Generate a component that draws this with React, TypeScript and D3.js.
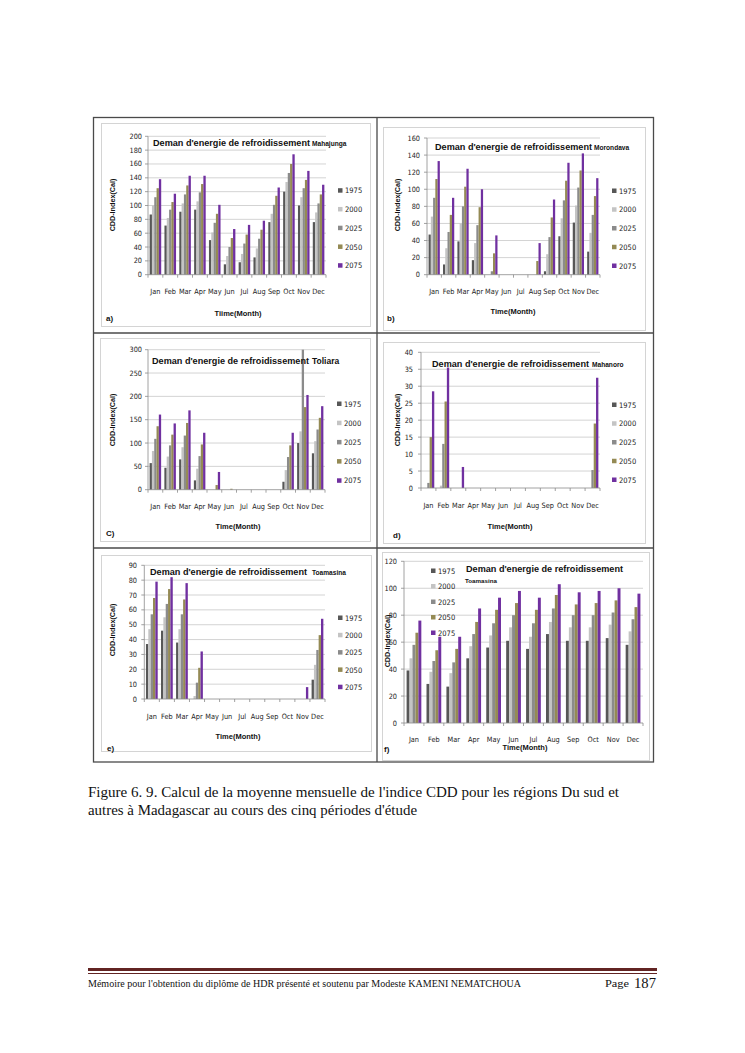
import React from 'react';
import * as d3 from 'd3';

const months = ['Jan', 'Feb', 'Mar', 'Apr', 'May', 'Jun', 'Jul', 'Aug', 'Sep', 'Oct', 'Nov', 'Dec'];
const years = ['1975', '2000', '2025', '2050', '2075'];
const yearColors = ['#575757', '#c4c4c4', '#8b8b8b', '#948a54', '#7030a0'];

// rows = years 1975, 2000, 2025, 2050, 2075 ; columns = months
const mahajunga = [
  [87, 71, 91, 94, 50, 15, 18, 25, 76, 120, 100, 76],
  [100, 82, 103, 106, 61, 27, 30, 38, 88, 134, 112, 90],
  [112, 94, 116, 119, 75, 40, 45, 52, 101, 147, 125, 103],
  [125, 105, 129, 131, 88, 53, 58, 65, 114, 160, 137, 116],
  [138, 117, 143, 143, 101, 66, 72, 78, 126, 174, 150, 130],
];
const morondava = [
  [47, 12, 39, 17, 0, 0, 0, 0, 4, 45, 61, 27],
  [68, 31, 60, 37, 0, 0, 0, 0, 24, 66, 81, 49],
  [90, 50, 80, 58, 4, 0, 0, 0, 44, 87, 102, 70],
  [112, 70, 103, 79, 25, 0, 0, 16, 67, 110, 122, 92],
  [133, 90, 124, 100, 46, 0, 0, 37, 88, 131, 142, 113],
];
const toliara = [
  [57, 47, 65, 20, 0, 0, 0, 0, 0, 17, 100, 78],
  [83, 71, 91, 45, 0, 0, 0, 0, 0, 42, 125, 104],
  [109, 95, 116, 72, 0, 0, 0, 0, 0, 70, 300, 129],
  [136, 118, 143, 97, 10, 2, 0, 0, 0, 95, 177, 154],
  [161, 142, 170, 122, 38, 0, 0, 0, 0, 122, 203, 179],
];
const mahanoro = [
  [0, 0, 0, 0, 0, 0, 0, 0, 0, 0, 0, 0],
  [0, 0.7, 0, 0, 0, 0, 0, 0, 0, 0, 0, 0],
  [1.5, 13, 0, 0, 0, 0, 0, 0, 0, 0, 0, 5.3],
  [15, 25.5, 0, 0, 0, 0, 0, 0, 0, 0, 0, 19],
  [28.5, 35.5, 6.2, 0, 0, 0, 0, 0, 0, 0, 0, 32.5],
];
const toamasinaE = [
  [37, 46, 38, 0, 0, 0, 0, 0, 0, 0, 0, 13],
  [47, 55, 47, 2, 0, 0, 0, 0, 0, 0, 0, 23],
  [57, 64, 57, 11, 0, 0, 0, 0, 0, 0, 0, 33],
  [68, 74, 67, 21, 0, 0, 0, 0, 0, 0, 0, 43],
  [79, 82, 78, 32, 0, 0, 0, 0, 0, 0, 8, 54],
];
const toamasinaF = [
  [39, 29, 27, 48, 56, 61, 55, 66, 61, 61, 63, 58],
  [48, 38, 37, 57, 65, 71, 64, 75, 71, 71, 73, 68],
  [58, 46, 45, 66, 74, 80, 74, 85, 80, 80, 82, 77],
  [67, 54, 55, 75, 84, 89, 84, 95, 88, 89, 91, 86],
  [76, 64, 64, 85, 93, 98, 93, 103, 97, 98, 100, 96],
];

const titleMain = "Deman d'energie de refroidissement";
const yTitle = 'CDD-Index(Cal)';

const FONT = "'Liberation Sans Narrow', 'DejaVu Sans Condensed', 'Liberation Sans', Arial, sans-serif";
const FONTB = "'Liberation Sans', Arial, sans-serif";

type P = {
  data: number[][];
  place: string; placeSize: number; placeDx: number; placeDy: number;
  border: [number, number, number, number];
  L: number; R: number; T: number; B: number; yMax: number; step: number;
  tickX: number; yTitleX: number; yTitleY: number;
  monthY: number; xTitle: string; xTitleX: number; xTitleY: number;
  label: string; labelX: number; labelY: number;
  legX: number; legY: number; legStep: number;
  titleX: number; titleY: number;
  pad: number; tickSize: number;
};

const panels: P[] = [
  { data: mahajunga, place: 'Mahajunga', placeSize: 6.6, placeDx: 159, placeDy: 0,
    border: [101, 123, 370, 326], L: 148, R: 326, T: 136.3, B: 274.7, yMax: 200, step: 20,
    tickX: 142, yTitleX: 112, yTitleY: 205, monthY: 294, xTitle: 'Tiime(Month)', xTitleX: 238, xTitleY: 316,
    label: 'a)', labelX: 106, labelY: 321, legX: 340, legY: 190.7, legStep: 18.75, titleX: 153, titleY: 146, pad: 0.22, tickSize: 7.3 },
  { data: morondava, place: 'Morondava', placeSize: 6.6, placeDx: 159, placeDy: 0,
    border: [383, 127, 645, 330], L: 427, R: 600, T: 138, B: 274.7, yMax: 160, step: 20,
    tickX: 420, yTitleX: 397, yTitleY: 205, monthY: 294, xTitle: 'Time(Month)', xTitleX: 513, xTitleY: 314,
    label: 'b)', labelX: 387, labelY: 321, legX: 614, legY: 191, legStep: 18.75, titleX: 435, titleY: 150, pad: 0.22, tickSize: 7.3 },
  { data: toliara, place: 'Toliara', placeSize: 8.5, placeDx: 160, placeDy: 0,
    border: [100, 338, 370, 541], L: 148, R: 325, T: 349.7, B: 489.7, yMax: 300, step: 50,
    tickX: 142, yTitleX: 112, yTitleY: 420, monthY: 509, xTitle: 'Time(Month)', xTitleX: 238, xTitleY: 529,
    label: 'C)', labelX: 106, labelY: 536, legX: 339, legY: 404, legStep: 19.2, titleX: 152, titleY: 364, pad: 0.22, tickSize: 7.3 },
  { data: mahanoro, place: 'Mahanoro', placeSize: 6.6, placeDx: 160, placeDy: 0,
    border: [383, 342, 645, 543], L: 421, R: 600, T: 352.3, B: 488, yMax: 40, step: 5,
    tickX: 413, yTitleX: 397, yTitleY: 420, monthY: 508, xTitle: 'Time(Month)', xTitleX: 510, xTitleY: 529,
    label: 'd)', labelX: 393, labelY: 538, legX: 614, legY: 405, legStep: 18.75, titleX: 432, titleY: 367, pad: 0.22, tickSize: 7.3 },
  { data: toamasinaE, place: 'Toamasina', placeSize: 6.6, placeDx: 162, placeDy: 0,
    border: [101, 555, 371, 751], L: 144.3, R: 325, T: 565.3, B: 699, yMax: 90, step: 10,
    tickX: 137, yTitleX: 112, yTitleY: 630, monthY: 719, xTitle: 'Time(Month)', xTitleX: 238, xTitleY: 739,
    label: 'e)', labelX: 107, labelY: 751, legX: 340, legY: 618, legStep: 17.3, titleX: 150, titleY: 575, pad: 0.22, tickSize: 7.3 },
  { data: toamasinaF, place: 'Toamasina', placeSize: 6.2, placeDx: -1, placeDy: 11,
    border: [382, 552, 649, 760], L: 404, R: 643, T: 561.3, B: 723, yMax: 120, step: 20,
    tickX: 397, yTitleX: 387, yTitleY: 641, monthY: 742, xTitle: 'Time(Month)', xTitleX: 525, xTitleY: 750,
    label: 'f)', labelX: 384, labelY: 752, legX: 433, legY: 571, legStep: 15.5, titleX: 466, titleY: 572, pad: 0.26, tickSize: 7.3 },
];

function Panel({ p }: { p: P }) {
  const x = d3.scaleBand<string>().domain(months).range([p.L, p.R]).paddingInner(p.pad).paddingOuter(p.pad / 2);
  const xi = d3.scaleBand<string>().domain(years).range([0, x.bandwidth()]);
  const y = d3.scaleLinear().domain([0, p.yMax]).range([p.B, p.T]);
  const ticks = d3.range(0, p.yMax + p.step / 2, p.step);
  const stepW = (p.R - p.L) / months.length;
  const [bx0, by0, bx1, by1] = p.border;
  return (
    <g>
      <rect x={bx0 + 0.5} y={by0 + 0.5} width={bx1 - bx0} height={by1 - by0} fill="#fff" stroke="#d4d4d4" strokeWidth={1} />
      {ticks.map((t) => (
        <g key={t}>
          {t > 0 && <line x1={p.L} x2={p.R} y1={y(t)} y2={y(t)} stroke="#c8c8c8" strokeWidth={0.8} />}
          <line x1={p.L - 3} x2={p.L} y1={y(t)} y2={y(t)} stroke="#8a8a8a" strokeWidth={0.8} />
          <text x={p.tickX} y={y(t) + 2.5} textAnchor="end" fontSize={p.tickSize} fontFamily={FONT} fill="#222">{t}</text>
        </g>
      ))}
      {p.data.map((row, si) =>
        row.map((v, mi) => {
          const h = p.B - y(Math.min(v, p.yMax));
          if (v <= 0) return null;
          return (
            <rect key={si + '-' + mi} x={(x(months[mi]) as number) + (xi(years[si]) as number)} y={p.B - h}
              width={xi.bandwidth()} height={h} fill={yearColors[si]} />
          );
        })
      )}
      <line x1={p.L} x2={p.L} y1={p.T} y2={p.B} stroke="#8a8a8a" strokeWidth={0.8} />
      <line x1={p.L} x2={p.R} y1={p.B} y2={p.B} stroke="#8a8a8a" strokeWidth={0.8} />
      {d3.range(0, months.length + 1).map((i) => (
        <line key={i} x1={p.L + i * stepW} x2={p.L + i * stepW} y1={p.B} y2={p.B + 3} stroke="#8a8a8a" strokeWidth={0.8} />
      ))}
      {months.map((m) => (
        <text key={m} x={(x(m) as number) + x.bandwidth() / 2} y={p.monthY} textAnchor="middle" fontSize={p.tickSize} fontFamily={FONT} fill="#222">{m}</text>
      ))}
      <text transform={`translate(${p.yTitleX + 2.5},${p.yTitleY}) rotate(-90)`} textAnchor="middle" fontSize={7.2} fontWeight="bold" fontFamily={FONTB} fill="#111">{yTitle}</text>
      <text x={p.xTitleX} y={p.xTitleY} textAnchor="middle" fontSize={7.5} fontWeight="bold" fontFamily={FONTB} fill="#111">{p.xTitle}</text>
      <text x={p.labelX} y={p.labelY} fontSize={8} fontWeight="bold" fontFamily={FONTB} fill="#111">{p.label}</text>
      {years.map((yr, i) => (
        <g key={yr}>
          <rect x={p.legX - 2} y={p.legY + i * p.legStep - 2.5} width={4.5} height={4.5} fill={yearColors[i]} />
          <text x={p.legX + 5} y={p.legY + i * p.legStep + 2.6} fontSize={7.5} fontFamily={FONT} fill="#222">{yr}</text>
        </g>
      ))}
      <text x={p.titleX} y={p.titleY} fontSize={8.6} fontWeight="bold" fontFamily={FONTB} fill="#111" textLength={157} lengthAdjust="spacingAndGlyphs">{titleMain}</text>
      <text x={p.titleX + p.placeDx} y={p.titleY + p.placeDy} fontSize={p.placeSize} fontWeight="bold" fontFamily={FONTB} fill="#111">{p.place}</text>
    </g>
  );
}

export default function App() {
  return (
    <svg width={745} height={1053} viewBox="0 0 745 1053" style={{ position: 'absolute', left: 0, top: 0, background: '#fff' }}>
      <rect x={0} y={0} width={745} height={1053} fill="#fff" />
      {panels.map((p, i) => <Panel key={i} p={p} />)}
      <g stroke="#4a4a4a" strokeWidth={1.3} fill="none">
        <rect x={93.5} y={117.5} width={560} height={644.5} />
        <line x1={93.5} x2={653.5} y1={333} y2={333} />
        <line x1={93.5} x2={653.5} y1={548} y2={548} />
        <line x1={377} x2={377} y1={117.5} y2={762} />
      </g>
      <g fontFamily="'Liberation Serif', 'Times New Roman', serif" fontSize={14} fill="#111">
        <text x={88} y={797} textLength={531} lengthAdjust="spacingAndGlyphs">Figure 6. 9. Calcul de la moyenne mensuelle de l'indice CDD pour les régions Du sud et</text>
        <text x={88} y={815} textLength={329} lengthAdjust="spacingAndGlyphs">autres à Madagascar au cours des cinq périodes d'étude</text>
      </g>
      <line x1={88} x2={657} y1={969.5} y2={969.5} stroke="#622423" strokeWidth={3} />
      <line x1={88} x2={657} y1={973.5} y2={973.5} stroke="#622423" strokeWidth={1} />
      <g fontFamily="'Liberation Serif', 'Times New Roman', serif" fill="#111">
        <text x={88} y={987} fontSize={10.5} textLength={433} lengthAdjust="spacingAndGlyphs">Mémoire  pour l'obtention du diplôme de HDR présenté et soutenu  par Modeste KAMENI NEMATCHOUA</text>
        <text x={605} y={987} fontSize={10.5} textLength={24} lengthAdjust="spacingAndGlyphs">Page</text>
        <text x={634} y={988} fontSize={15} textLength={22} lengthAdjust="spacingAndGlyphs">187</text>
      </g>
    </svg>
  );
}
